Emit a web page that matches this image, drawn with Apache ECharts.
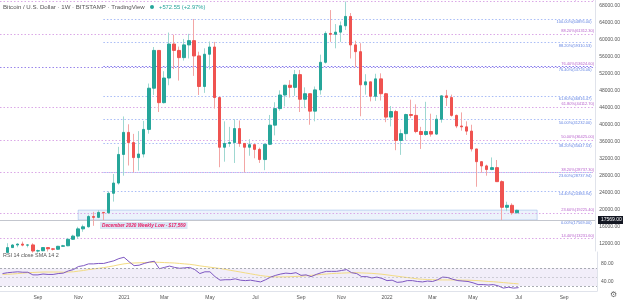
<!DOCTYPE html>
<html>
<head>
<meta charset="utf-8">
<script src="https://cdn.jsdelivr.net/npm/echarts@6/dist/echarts.min.js"></script>
<style>
  html, body { margin: 0; padding: 0; background: #fff; }
  #chart { width: 623px; height: 302px; }
</style>
</head>
<body>
<div id="chart"></div>
<script>
// weekly bars, first slot is the week of 2020-07-20
var firstWeek = '2020-07-20'
var weekCount = 118
var monthNames = ['Jan','Feb','Mar','Apr','May','Jun','Jul','Aug','Sep','Oct','Nov','Dec']

// [open, close, low, high] per week
var candles = [
  [9160, 9930, 9030, 10030], [9930, 11070, 9900, 12100], [11070, 11680, 11000, 11900], [11680, 11900, 11150, 12080],
  [11900, 11650, 11380, 12480], [11650, 11700, 11120, 11800], [11700, 10270, 9880, 12090], [10270, 10330, 9880, 10600],
  [10330, 11080, 10200, 11180], [11080, 10780, 10150, 11090], [10780, 10680, 10380, 10950], [10680, 11380, 10540, 11480],
  [11380, 11500, 11220, 11720], [11500, 13030, 11400, 13350], [13030, 13780, 12900, 14100], [13780, 15480, 13200, 15970],
  [15480, 15970, 14800, 16480], [15970, 18400, 15800, 18800], [18400, 18180, 16200, 19480], [18180, 19360, 18000, 19900],
  [19360, 19270, 17569, 19420], [19270, 23860, 19000, 24300], [23860, 26270, 21900, 28400], [26270, 33000, 25900, 34800],
  [33000, 38200, 28000, 41950], [38200, 35800, 30400, 40100], [35800, 32260, 28800, 37850], [32260, 33100, 29200, 38500],
  [33100, 38900, 32300, 40900], [38900, 48600, 37900, 49700], [48600, 57500, 47000, 58300], [57500, 45200, 43000, 57500],
  [45200, 51000, 45000, 52600], [51000, 59000, 49300, 61700], [59000, 57500, 53100, 61200], [57500, 55800, 50400, 58400],
  [55800, 58800, 55100, 60200], [58800, 59800, 55600, 61400], [59800, 56200, 51500, 64900], [56200, 49000, 47000, 57200],
  [49000, 56600, 47500, 58000], [56600, 58300, 53000, 59600], [58300, 46400, 43800, 59500], [46400, 34700, 30000, 46600],
  [34700, 35600, 31300, 40800], [35600, 35800, 34800, 39500], [35800, 39100, 31000, 41300], [39100, 35600, 34800, 41000],
  [35600, 34700, 28800, 35700], [34700, 35300, 32700, 36600], [35300, 34200, 32100, 35300], [34200, 31800, 31000, 34600],
  [31800, 35400, 29300, 35400], [35400, 39900, 35200, 42300], [39900, 43800, 37500, 45300], [43800, 47000, 43300, 48100],
  [47000, 49300, 44300, 49400], [49300, 48800, 46400, 50500], [48800, 51800, 46800, 52900], [51800, 46000, 43000, 52900],
  [46000, 47300, 43900, 48800], [47300, 43200, 40000, 47300], [43200, 48200, 40800, 49000], [48200, 54700, 47100, 56500],
  [54700, 61500, 54400, 62000], [61500, 61300, 59500, 67000], [61300, 61800, 58000, 63700], [61800, 63300, 59500, 64300],
  [63300, 65500, 62300, 69000], [65500, 58800, 55600, 66300], [58800, 57200, 53500, 59800], [57200, 49400, 42000, 59200],
  [49400, 50100, 47100, 51900], [50100, 46700, 45500, 50100], [46700, 50800, 45600, 52000], [50800, 47300, 45700, 52100],
  [47300, 41800, 40600, 47500], [41800, 43100, 39600, 44400], [43100, 36300, 34000, 43500], [36300, 37900, 32900, 38900],
  [37900, 42400, 36300, 42600], [42400, 42200, 41600, 45900], [42200, 38400, 38000, 44800], [38400, 37700, 34300, 39500],
  [37700, 38400, 37400, 45400], [38400, 37800, 37200, 42600], [37800, 41300, 37600, 42300], [41300, 46800, 40500, 46900],
  [46800, 46400, 44400, 48200], [46400, 42200, 41900, 47100], [42200, 39700, 39200, 42400], [39700, 39500, 38600, 42900],
  [39500, 38500, 37600, 40800], [38500, 34300, 33700, 40000], [34300, 31300, 25400, 34300], [31300, 30300, 28700, 31300],
  [30300, 29450, 28000, 30600], [29450, 29900, 29300, 32300], [29900, 26600, 26600, 31700], [26600, 20560, 17569, 26900],
  [20560, 21030, 19650, 21870], [21030, 19280, 18800, 21500], [19280, 19850, 19100, 20000]
]

var rsi = [
  58, 60, 61, 62, 61, 61, 55, 55, 57, 56, 56, 58, 59, 64, 67, 74, 76, 80, 80, 81,
  81, 84, 87, 92, 95, 85, 76, 77, 81, 84, 86, 69, 72, 75, 72, 70, 71, 72, 67, 58,
  62, 62, 51, 43, 44, 44, 46, 43, 42, 43, 41, 39, 44, 50, 54, 57, 59, 58, 60, 54,
  55, 51, 56, 60, 63, 63, 63, 65, 67, 60, 58, 51, 51, 48, 50, 47, 42, 43, 38, 39,
  42, 42, 40, 39, 41, 40, 44, 50, 49, 45, 42, 41, 40, 37, 33, 33, 32, 33, 30, 25,
  27, 25, 26
]

var rsiSma = [
  56, 56.5, 57, 58, 59, 60, 60.5, 61, 61.5, 61.5, 61.5, 61.5, 61, 61.5, 62, 63.5, 65, 67, 68.5, 70,
  71.5, 73.5, 75.5, 78, 80, 81.5, 82, 82.5, 83, 83.5, 84, 83.5, 83, 82.5, 82, 81, 80, 79, 77.5, 75.5,
  74, 72.5, 71, 69.5, 67.5, 65.5, 63.5, 61.5, 59.5, 57.5, 55.5, 53.5, 52, 51, 50.5, 50.5, 50.5, 51, 51.5, 52,
  53, 54, 55, 56, 57, 58, 58.5, 59, 59.5, 60, 60, 59.5, 59, 58.5, 57.5, 56.5, 55, 53.5, 52, 50.5,
  49, 47.5, 46, 45, 44.5, 44, 43.5, 43.5, 43.5, 43.5, 43.5, 43, 43, 42.5, 42, 41, 40, 39.5, 38.5, 37.5,
  36.5, 35.5, 34.5
]

// fib retracement 1 (purple): 3850 -> 69000
var purplePct = [14.4, 23.6, 38.2, 50, 61.8, 76.4, 88.2, 100]
var purplePrice = [13231.60, 19225.40, 28737.30, 36425.00, 44112.70, 53624.60, 61312.30, 69000.00]
// fib retracement 2 (blue): 17569 -> 64895, drawn from the Dec 2020 low bar
var bluePct = [0, 14.4, 23.6, 38.2, 50, 61.8, 76.4, 88.2, 100]
var bluePrice = [17569.00, 24384.94, 28737.94, 35647.53, 41232.00, 46816.47, 53726.06, 59310.53, 64895.00]
var blueStartWeek = 20

var weeklyLow = 17569
var zoneTop = 19900
var zoneWeeks = [15, 106]

var priceTicks = [12000, 16000, 20000, 24000, 28000, 32000, 36000, 40000, 44000, 48000, 52000, 56000, 60000, 64000, 68000]
var rsiTicks = [40, 80]
var rsiBands = [30, 50, 70]

var weeks = []
var t0 = new Date(firstWeek + 'T00:00:00Z').getTime()
for (var i = 0; i < weekCount; i++) {
  weeks.push(new Date(t0 + i * 7 * 86400000).toISOString().slice(0, 10))
}

function showMonth(idx, value) {
  var m = +value.slice(5, 7), day = +value.slice(8, 10)
  return day <= 7 && m % 2 === 1
}
function monthLabel(value) {
  var m = +value.slice(5, 7)
  return m === 1 ? value.slice(0, 4) : monthNames[m - 1]
}
function fibLabel(p, v) {
  return p.toFixed(2) + '%(' + v.toFixed(2) + ')'
}

var wickData = candles
var bodyData = candles.map(function (c) {
  return [c[0], c[1], Math.min(c[0], c[1]), Math.max(c[0], c[1])]
})

var dots = [1.5, 2]
var fibLines = []
purplePrice.forEach(function (v, k) {
  fibLines.push({
    yAxis: v,
    lineStyle: { color: k === 5 ? '#9a86ea' : '#dba8e7', type: dots, width: 1 },
    label: { formatter: fibLabel(purplePct[k], v), color: '#b862cc', position: 'insideEndTop' }
  })
})
bluePrice.forEach(function (v, k) {
  fibLines.push([
    { coord: [weeks[blueStartWeek], v],
      lineStyle: { color: k === 6 ? '#7f78ee' : '#a9bcf6', type: dots, width: 1 },
      label: { formatter: fibLabel(bluePct[k], v), color: '#6384e2', position: 'insideEndBottom' } },
    { coord: [weeks[weekCount - 1], v] }
  ])
})
fibLines.push({
  yAxis: weeklyLow,
  lineStyle: { color: '#c3c6ce', type: 'solid', width: 1 },
  label: { show: false }
})

var font = 'Liberation Sans'
var gridL = 0, gridR = 26

var myChart = echarts.init(document.getElementById('chart'))
var option = {
  animation: false,
  backgroundColor: '#fff',
  textStyle: { fontFamily: font },
  grid: [
    { left: gridL, right: gridR, top: 0, height: 251 },
    { left: gridL, right: gridR, top: 252, height: 39 }
  ],
  xAxis: [
    { type: 'category', gridIndex: 0, data: weeks, boundaryGap: true, show: false },
    {
      type: 'category', gridIndex: 1, data: weeks, boundaryGap: true,
      axisLine: { show: true, lineStyle: { color: '#e0e3eb' } },
      axisTick: { show: false },
      axisLabel: { interval: showMonth, formatter: monthLabel, fontSize: 5, color: '#555', margin: 4 }
    }
  ],
  yAxis: [
    {
      type: 'value', gridIndex: 0, position: 'right', min: 10270, max: 69370,
      axisLine: { show: true, lineStyle: { color: '#e0e3eb' } },
      axisTick: { show: false },
      splitLine: { show: false },
      axisLabel: { customValues: priceTicks, formatter: function (v) { return v.toFixed(2) }, fontSize: 5, color: '#555', margin: 4 }
    },
    {
      type: 'value', gridIndex: 1, position: 'right', min: 18.4, max: 107,
      axisLine: { show: true, lineStyle: { color: '#e0e3eb' } },
      axisTick: { show: false },
      splitLine: { show: false },
      axisLabel: { customValues: rsiTicks, formatter: function (v) { return v.toFixed(2) }, fontSize: 5, color: '#555', margin: 4 }
    }
  ],
  series: [
    {
      name: 'fib', type: 'line', xAxisIndex: 0, yAxisIndex: 0, data: [], z: 1,
      markLine: {
        silent: true, symbol: 'none', z: 1,
        label: { show: true, fontSize: 4, distance: 1 },
        data: fibLines
      },
      markArea: {
        silent: true, z: 1,
        itemStyle: { color: 'rgba(120,160,225,0.14)', borderColor: 'rgba(120,160,225,0.4)', borderWidth: 1 },
        data: [[{ coord: [weeks[zoneWeeks[0]], zoneTop] }, { coord: [weeks[zoneWeeks[1]], weeklyLow] }]]
      }
    },
    {
      name: 'wick', type: 'candlestick', xAxisIndex: 0, yAxisIndex: 0, data: wickData, z: 3,
      barWidth: 0.01,
      itemStyle: { color: '#f3a6a5', color0: '#f3a6a5', borderColor: '#9fd8d1', borderColor0: '#f3a6a5', borderWidth: 1 }
    },
    {
      name: 'BTCUSD', type: 'candlestick', xAxisIndex: 0, yAxisIndex: 0, data: bodyData, z: 4,
      barWidth: 3,
      itemStyle: { color: '#26a69a', color0: '#ef5350', borderColor: '#26a69a', borderColor0: '#ef5350', borderWidth: 1 }
    },
    {
      name: 'RSI', type: 'line', xAxisIndex: 1, yAxisIndex: 1, data: rsi, z: 4,
      symbol: 'none', lineStyle: { color: '#7e57c2', width: 1 },
      markArea: {
        silent: true,
        itemStyle: { color: 'rgba(126,87,194,0.1)' },
        data: [[{ yAxis: rsiBands[0] }, { yAxis: rsiBands[2] }]]
      },
      markLine: {
        silent: true, symbol: 'none', label: { show: false },
        data: rsiBands.map(function (v) {
          return { yAxis: v, lineStyle: { color: '#9598a1', type: [2, 2], width: 1, opacity: v === 50 ? 0.4 : 0.8 } }
        })
      }
    },
    {
      name: 'RSI SMA', type: 'line', xAxisIndex: 1, yAxisIndex: 1, data: rsiSma, z: 3,
      symbol: 'none', lineStyle: { color: '#f3dc84', width: 1 }
    }
  ],
  graphic: [
    { type: 'text', left: 3, top: 4, style: { text: 'Bitcoin / U.S. Dollar · 1W · BITSTAMP · TradingView', font: '6.1px ' + font, fill: '#555' } },
    { type: 'circle', shape: { cx: 152, cy: 7, r: 2 }, style: { fill: '#26a69a' } },
    { type: 'text', left: 159, top: 4, style: { text: '+572.55 (+2.97%)', font: '5.8px ' + font, fill: '#26a69a' } },
    { type: 'text', left: 3, top: 253, style: { text: 'RSI 14 close SMA 14 2', font: '5.4px ' + font, fill: '#555' } },
    { type: 'text', left: 100, top: 222, style: {
        text: 'December 2020 Weekly Low - $17,569', font: 'italic bold 4.7px ' + font, fill: '#e91e63',
        backgroundColor: '#dbe6f5', padding: [1, 2] } },
    { type: 'rect', shape: { x: 598, y: 216, width: 25, height: 8 }, style: { fill: '#131722' } },
    { type: 'text', left: 601, top: 217.5, style: { text: '17569.00', font: '5px ' + font, fill: '#fff' } },
    { type: 'text', left: 610, top: 291, style: { text: '⚙', font: '8px DejaVu Sans', fill: '#666' } }
  ]
}
option && myChart.setOption(option)
</script>
</body>
</html>
